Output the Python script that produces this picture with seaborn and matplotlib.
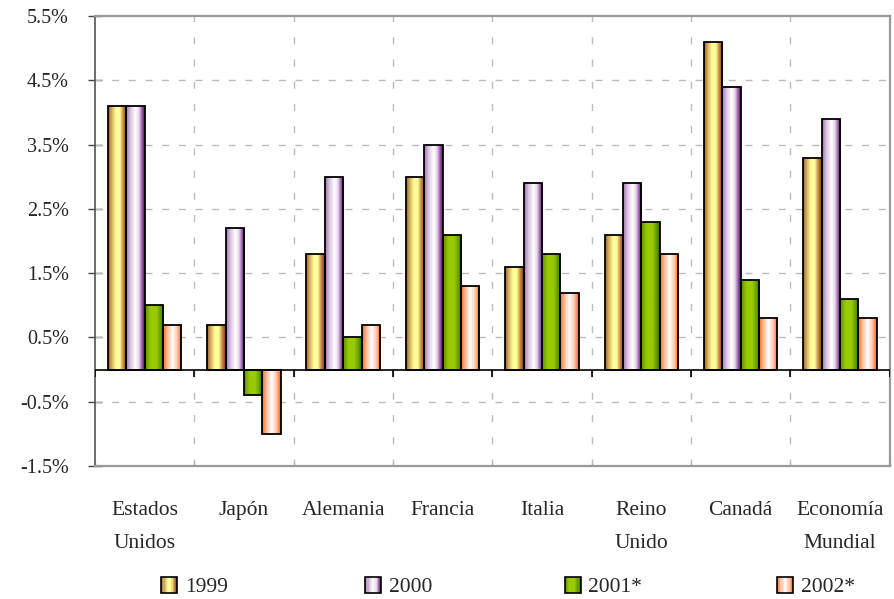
import numpy as np
import pandas as pd
import seaborn as sns
import matplotlib
matplotlib.use("Agg")
import matplotlib.pyplot as plt
from matplotlib.colors import LinearSegmentedColormap
from matplotlib.patches import Rectangle, Patch
from matplotlib.legend_handler import HandlerBase

categories = ["Estados\nUnidos", "Japón", "Alemania", "Francia", "Italia",
              "Reino\nUnido", "Canadá", "Economía\nMundial"]
years = ["1999", "2000", "2001*", "2002*"]
v1999 = [4.1, 0.7, 1.8, 3.0, 1.6, 2.1, 5.1, 3.3]
v2000 = [4.1, 2.2, 3.0, 3.5, 2.9, 2.9, 4.4, 3.9]
v2001 = [1.0, -0.4, 0.5, 2.1, 1.8, 2.3, 1.4, 1.1]
v2002 = [0.7, -1.0, 0.7, 1.3, 1.2, 1.8, 0.8, 0.8]
yticks = [-1.5, -0.5, 0.5, 1.5, 2.5, 3.5, 4.5, 5.5]

series = [v1999, v2000, v2001, v2002]
df = pd.DataFrame({
    "cat": [c for s in series for c in categories],
    "year": [y for y, s in zip(years, series) for _ in s],
    "val": [v for s in series for v in s],
})

grad_stops = [
    [(0, '#9C5A2A'), (0.2, '#D8B060'), (0.42, '#FFFF99'), (0.62, '#FFFF99'), (0.82, '#C08040'), (1, '#7A3E12')],
    [(0, '#A070B0'), (0.25, '#DCC8E0'), (0.5, '#FFFFFF'), (0.68, '#E8D8EC'), (0.85, '#9B5AA8'), (1, '#5A005A')],
    [(0, '#5C8C00'), (0.3, '#99CC00'), (0.6, '#99CC00'), (0.85, '#5E9800'), (1, '#2E6000')],
    [(0, '#FF6A10'), (0.25, '#FFC0A0'), (0.5, '#FFFFFF'), (0.75, '#FFC8B0'), (1, '#FF5A00')],
]
cmaps = [LinearSegmentedColormap.from_list(f"g{i}", s) for i, s in enumerate(grad_stops)]
base_colors = ['#FFFF99', '#E8D8EC', '#99CC00', '#FFC0A0']

sns.set_theme(style="white")
plt.rcParams['font.family'] = ['Liberation Serif', 'DejaVu Serif']

fig = plt.figure(figsize=(8.95, 5.99), dpi=100)
ax = fig.add_axes([0.106, 0.222, 0.888, 0.751])

sns.barplot(data=df, x="cat", y="val", hue="year", order=categories, hue_order=years,
            palette=base_colors, saturation=1, width=0.74, ax=ax, legend=False,
            edgecolor='black', linewidth=1.3, zorder=3)

grad = np.linspace(0, 1, 256)[np.newaxis, :]
for cont, cmap in zip(ax.containers, cmaps):
    for bar in cont:
        x0 = bar.get_x(); w = bar.get_width()
        y0 = bar.get_y(); h = bar.get_height()
        im = ax.imshow(grad, cmap=cmap, aspect='auto', interpolation='bilinear',
                       extent=[x0, x0 + w, min(y0, y0 + h), max(y0, y0 + h)], zorder=2.9)
        im.set_clip_path(bar)
        bar.set_facecolor((0, 0, 0, 0))

ax.set_xlim(-0.5, len(categories) - 0.5)
ax.set_ylim(yticks[0], yticks[-1])
ax.set_aspect('auto')

# grid
bounds = np.arange(0.5, len(categories) - 0.5, 1)
for yv in yticks[1:-1]:
    ax.axhline(yv, color='#BBBBBB', lw=1.0, ls=(0, (5, 7)), zorder=1)
for xv in bounds:
    ax.axvline(xv, color='#BBBBBB', lw=1.0, ls=(0, (5, 11)), zorder=1)

ax.axhline(0, color='black', lw=1.2, zorder=4)
ax.vlines(np.arange(-0.5, len(categories), 1), -0.12, 0, color='black', lw=1.2, zorder=4)

ax.set_yticks(yticks)
ax.set_yticklabels([f"{v:.1f}%" for v in yticks], fontsize=14.5)
ax.set_xticks(range(len(categories)))
ax.set_xticklabels(categories, fontsize=15.5, linespacing=2.0)
ax.tick_params(axis='x', length=0, pad=25)
ax.tick_params(axis='y', length=9.5, width=1, color='#444444', left=True,
               direction='inout', pad=14)
ax.set_xticks(np.arange(-0.5, len(categories), 1), minor=True)
ax.tick_params(axis='x', which='minor', direction='in', length=3, color='#BBBBBB', bottom=True)
ax.set_xlabel(""); ax.set_ylabel("")

for side in ['top', 'right', 'bottom']:
    ax.spines[side].set_color('#999999')
    ax.spines[side].set_linewidth(1.6)
ax.spines['left'].set_color('#555555')
ax.spines['left'].set_linewidth(1.2)


class GradHandler(HandlerBase):
    def __init__(self, cmap):
        super().__init__()
        self.cmap = cmap

    def create_artists(self, legend, orig_handle, xdescent, ydescent, width, height, fontsize, trans):
        n = 14
        arts = []
        for i in range(n):
            r = Rectangle((-xdescent + i * width / n, -ydescent), width / n, height,
                          facecolor=self.cmap((i + 0.5) / n), edgecolor='none', transform=trans)
            arts.append(r)
        arts.append(Rectangle((-xdescent, -ydescent), width, height, fill=False,
                              edgecolor='black', lw=1.2, transform=trans))
        return arts


leg_x = [0.180, 0.408, 0.631, 0.868]
for yr, cmap, lx in zip(years, cmaps, leg_x):
    h = Patch(label=yr)
    fig.legend(handles=[h], labels=[yr], handler_map={h: GradHandler(cmap)},
               loc='center left', bbox_to_anchor=(lx, 0.02), frameon=False, fontsize=15.5,
               handlelength=0.75, handleheight=0.8, handletextpad=0.35, borderpad=0,
               borderaxespad=0)

fig.savefig("out.png", dpi=100)
